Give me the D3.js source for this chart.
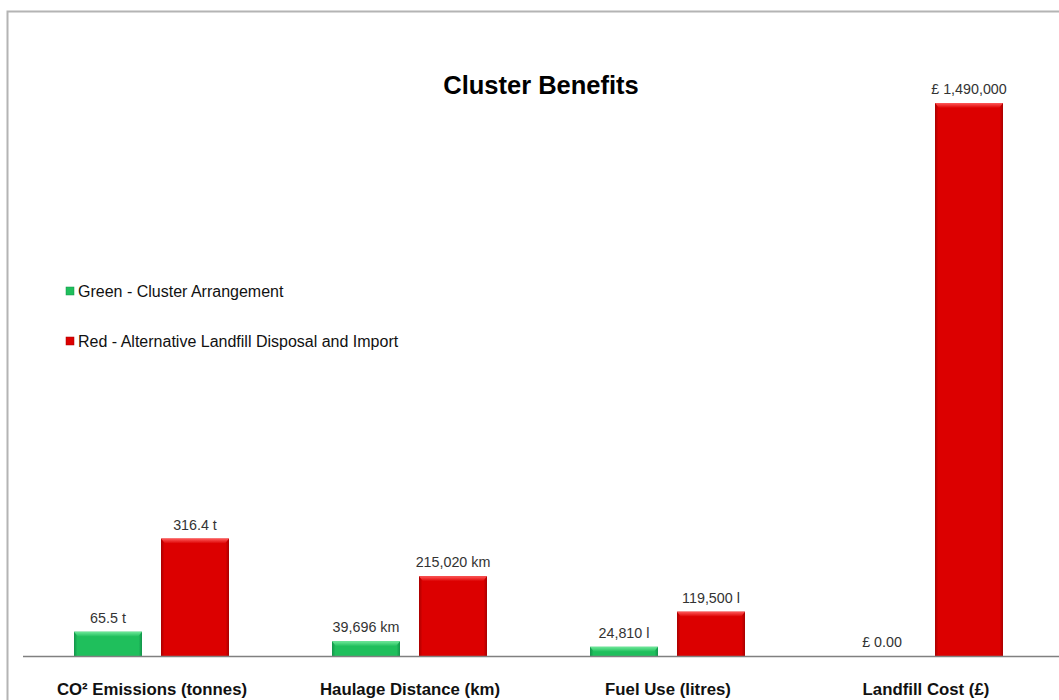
<!DOCTYPE html>
<html>
<head>
<meta charset="utf-8">
<script src="https://cdn.jsdelivr.net/npm/d3@7"></script>
<style>
  body { margin: 0; background: #fff; }
  svg { display: block; font-family: "Liberation Sans", Arial, sans-serif; }
</style>
</head>
<body>
<svg width="1059" height="700"></svg>
<script>
// The data
var categories = ["CO² Emissions (tonnes)", "Haulage Distance (km)", "Fuel Use (litres)", "Landfill Cost (£)"];
var greenValues = [65500, 39696, 24810, 0];        // CO2 plotted in kg
var redValues = [316400, 215020, 119500, 1490000];
var greenLabels = ["65.5 t", "39,696 km", "24,810 l", "£ 0.00"];
var redLabels = ["316.4 t", "215,020 km", "119,500 l", "£ 1,490,000"];
var seriesNames = ["Green - Cluster Arrangement", "Red - Alternative Landfill Disposal and Import"];

var svg = d3.select("svg"),
    width = +svg.attr("width"),
    height = +svg.attr("height");

// outer frame
svg.append("path")
    .attr("d", "M7.5,700 V11.5 H1059")
    .attr("fill", "none")
    .attr("stroke", "#b4b4b4")
    .attr("stroke-width", 2);

// gradients for bevelled bars
var defs = svg.append("defs");
function bevel(id, light, main, dark) {
    var g = defs.append("linearGradient").attr("id", id)
        .attr("x1", 0).attr("y1", 0).attr("x2", 1).attr("y2", 0);
    g.append("stop").attr("offset", "0%").attr("stop-color", dark);
    g.append("stop").attr("offset", "5%").attr("stop-color", main);
    g.append("stop").attr("offset", "95%").attr("stop-color", main);
    g.append("stop").attr("offset", "100%").attr("stop-color", dark);
    var t = defs.append("linearGradient").attr("id", id + "Top")
        .attr("x1", 0).attr("y1", 0).attr("x2", 0).attr("y2", 1);
    t.append("stop").attr("offset", "0%").attr("stop-color", light);
    t.append("stop").attr("offset", "100%").attr("stop-color", main);
}
bevel("gGreen", "#6fe89a", "#1fbf5c", "#12934a");
bevel("gRed", "#ff5a5a", "#dc0000", "#a80000");

// scales
var x = d3.scaleBand().domain(categories).range([23, 1055]);
var sub = d3.scaleOrdinal().domain([0, 1]).range([-78, 9]);
var barW = 68;
var y = d3.scaleLinear().domain([0, 1490000]).range([656, 103]);

var rows = categories.map(function (c, i) {
    return [
        { cat: c, s: 0, v: greenValues[i], label: greenLabels[i], fill: "gGreen" },
        { cat: c, s: 1, v: redValues[i], label: redLabels[i], fill: "gRed" }
    ];
});
var bars = [].concat.apply([], rows);

var g = svg.append("g");
var bar = g.selectAll(".bar").data(bars.filter(function (d) { return d.v > 0; }))
    .enter().append("g").attr("class", "bar");

bar.append("rect")
    .attr("x", function (d) { return x(d.cat) + x.bandwidth() / 2 + sub(d.s); })
    .attr("y", function (d) { return y(d.v); })
    .attr("width", barW)
    .attr("height", function (d) { return y(0) - y(d.v); })
    .attr("fill", function (d) { return "url(#" + d.fill + ")"; });

// top bevel strip
bar.append("path")
    .attr("d", function (d) {
        var x0 = x(d.cat) + x.bandwidth() / 2 + sub(d.s), y0 = y(d.v);
        return "M" + x0 + "," + y0 + " h" + barW + " l-4,5 h" + (-(barW - 8)) + " Z";
    })
    .attr("fill", function (d) { return "url(#" + d.fill + "Top)"; });

// value labels
g.selectAll(".val").data(bars).enter().append("text")
    .attr("class", "val")
    .attr("x", function (d) { return x(d.cat) + x.bandwidth() / 2 + sub(d.s) + barW / 2; })
    .attr("y", function (d) { return y(d.v) - 9; })
    .attr("text-anchor", "middle")
    .attr("font-size", 14.3)
    .attr("fill", "#333")
    .text(function (d) { return d.label; });

// axis line
svg.append("line")
    .attr("x1", 23).attr("x2", width)
    .attr("y1", 656.5).attr("y2", 656.5)
    .attr("stroke", "#808080").attr("stroke-width", 1.5);

// category labels
svg.selectAll(".cat").data(categories).enter().append("text")
    .attr("x", function (d) { return x(d) + x.bandwidth() / 2; })
    .attr("y", 695)
    .attr("text-anchor", "middle")
    .attr("font-size", 16.8)
    .attr("font-weight", "bold")
    .attr("fill", "#111")
    .text(function (d) { return d; });

// title
svg.append("text")
    .attr("x", 541).attr("y", 94)
    .attr("text-anchor", "middle")
    .attr("font-size", 25.5)
    .attr("font-weight", "bold")
    .text("Cluster Benefits");

// legend
var legend = svg.selectAll(".leg").data(seriesNames).enter().append("g")
    .attr("transform", function (d, i) { return "translate(66," + (291 + i * 50) + ")"; });
legend.append("rect")
    .attr("x", 0).attr("y", -4).attr("width", 8).attr("height", 8)
    .attr("fill", function (d, i) { return i == 0 ? "url(#gGreen)" : "url(#gRed)"; })
    .attr("stroke", function (d, i) { return i == 0 ? "#12934a" : "#a80000"; })
    .attr("stroke-width", 0.5);
legend.append("text")
    .attr("x", 12).attr("y", 6)
    .attr("font-size", 16)
    .attr("fill", "#111")
    .text(function (d) { return d; });
</script>
</body>
</html>
